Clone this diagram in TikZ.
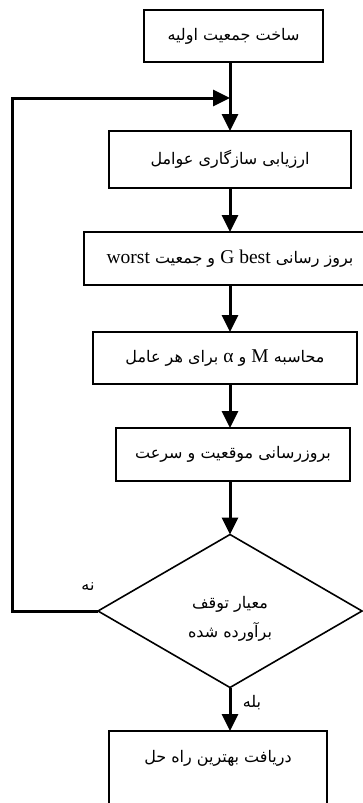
\documentclass[tikz,border=0pt]{standalone}
\usepackage{fontspec}
\setmainfont{DejaVu Sans}
\newfontfamily\fafont[Script=Arabic]{DejaVu Sans}
\newfontfamily\lafont{Liberation Serif}
\TeXXeTstate=1
\usetikzlibrary{arrows.meta,shapes.geometric}
\newcommand{\fa}[1]{{\fafont\beginR #1\endR}}
\newcommand{\la}[1]{\beginL{\lafont\fontsize{19.5}{23}\selectfont #1}\endL{}}
\tikzset{
  font=\fafont\fontsize{16}{19}\selectfont,
  box/.style={
    draw,
    line width=2pt,
    align=center,
    inner sep=0pt,
    outer sep=0pt
  },
  decision/.style={
    diamond,
    draw,
    line width=1.6pt,
    align=center,
    aspect=1.73,
    minimum width=264pt,
    minimum height=153pt,
    inner sep=0pt,
    outer sep=0pt
  },
  tag/.style={inner sep=0pt},
  arrow/.style={-{Triangle[width=16pt,length=17pt]}, line width=3pt}
}

\begin{document}
\begin{tikzpicture}[x=1pt,y=-1pt]
\useasboundingbox (0,0) rectangle (363,803);

% Main column
\node[box, minimum width=179pt, minimum height=52pt] (init) at (233.5,36) {\fa{ساخت جمعیت اولیه}};
\node[box, minimum width=242pt, minimum height=57pt] (fit) at (230,159.5) {\fa{ارزیابی سازگاری عوامل}};
\node[box, minimum width=292pt, minimum height=53pt] (best) at (230,258.5) {\fa{بروز رسانی \la{G best} و جمعیت \la{worst}}};
\node[box, minimum width=264pt, minimum height=52pt] (mass) at (225,358) {\fa{محاسبه \la{M} و \la{α} برای هر عامل}};
\node[box, minimum width=234pt, minimum height=53pt] (move) at (233,454.5) {\fa{بروزرسانی موقعیت و سرعت}};
\node[decision] (stop) at (230,611) {\rule{0pt}{28pt}\fa{معیار توقف}\\[10pt]\fa{برآورده شده}};
\node[box, anchor=north, minimum width=218pt, text height=31pt, text depth=60pt] (sol) at (218,731) {\fa{دریافت بهترین راه حل}};

% Labels
\node[tag] (no) at (88,587) {\fa{نه}};
\node[tag] (yes) at (252,703) {\fa{بله}};

% Helper points
\coordinate (spine) at (230,0);
\coordinate (join) at (230,98);
\coordinate (lx) at (12,0);

% Edges
\draw[arrow] (init.south -| spine) -- (fit.north -| spine);
\draw[arrow] (fit.south -| spine) -- (best.north -| spine);
\draw[arrow] (best.south -| spine) -- (mass.north -| spine);
\draw[arrow] (mass.south -| spine) -- (move.north -| spine);
\draw[arrow] (move.south -| spine) -- (stop.north);
\draw[arrow] (stop.south) -- (stop.south |- sol.north);
\draw[arrow] (stop.west) -- (stop.west -| lx) |- (join);

\end{tikzpicture}
\end{document}
